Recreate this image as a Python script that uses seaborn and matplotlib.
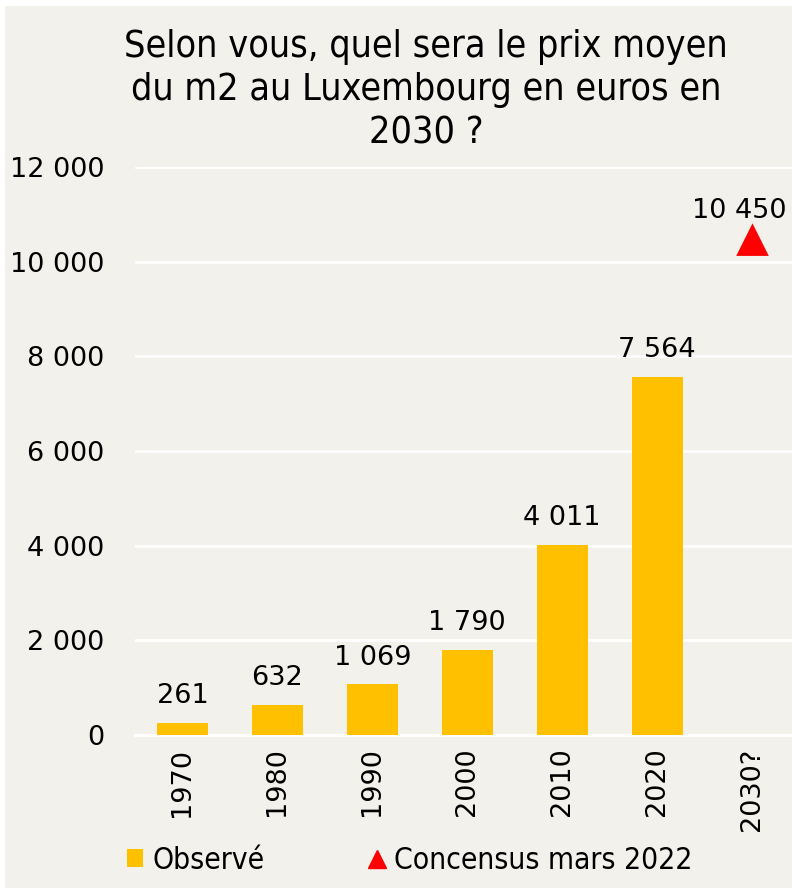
import matplotlib
matplotlib.use("Agg")
import matplotlib.pyplot as plt
import seaborn as sns
from matplotlib.patches import Patch, Rectangle
from matplotlib.lines import Line2D

categories = ["1970", "1980", "1990", "2000", "2010", "2020", "2030?"]
obs_years = ["1970", "1980", "1990", "2000", "2010", "2020"]
obs_values = [261, 632, 1069, 1790, 4011, 7564]
consensus_year = ["2030?"]
consensus_value = [10450]
y_ticks = [0, 2000, 4000, 6000, 8000, 10000, 12000]

bg = "#F2F1EC"
gold = "#FFC000"
red = "#FF0000"


def fmt(v):
    return f"{v:,.0f}".replace(",", " ")


sns.set_theme(style="white")
plt.rcParams["font.family"] = ["DejaVu Sans"]

fig = plt.figure(figsize=(7.92, 8.88), dpi=100, facecolor="white")
fig.patches.append(Rectangle((5 / 792, 0), 1, 1 - 6 / 888, transform=fig.transFigure,
                             facecolor=bg, edgecolor="none", zorder=-10))
ax = fig.add_axes([135 / 792, 1 - 735 / 888, (792 - 135) / 792, (735 - 167) / 888])
ax.set_facecolor(bg)

sns.barplot(ax=ax, x=obs_years, y=obs_values, order=categories, color=gold,
            saturation=1, width=0.54, linewidth=0, zorder=3)
sns.pointplot(ax=ax, x=consensus_year, y=consensus_value, order=categories,
              color=red, marker="^", markersize=20, linestyle="none", errorbar=None, zorder=4)

ax.bar_label(ax.containers[0], labels=[fmt(v) for v in obs_values], padding=10,
             fontsize=19.5, color="black")
ax.annotate(fmt(consensus_value[0]), (categories.index("2030?"), consensus_value[0]),
            xytext=(-9, 12), textcoords="offset points", ha="center", va="bottom",
            fontsize=19.5, color="black")

ax.set_xlim(-0.5, 6.42)
ax.set_ylim(0, 12000)
ax.set_yticks(y_ticks)
ax.set_yticklabels([fmt(v) for v in y_ticks])
ax.yaxis.grid(True, color="white", linewidth=2, zorder=0)
ax.set_axisbelow(True)
for s in ["top", "right", "left"]:
    ax.spines[s].set_visible(False)
ax.spines["bottom"].set_color("white")
ax.spines["bottom"].set_linewidth(2)
ax.tick_params(axis="y", length=0, pad=22, labelsize=19.5, labelcolor="black")
ax.tick_params(axis="x", length=0, pad=9, labelsize=19.5, labelcolor="black", labelrotation=90)
ax.set_xlabel("")
ax.set_ylabel("")

fig.text(426 / 792, 1 - 29 / 888,
         "Selon vous, quel sera le prix moyen\ndu m2 au Luxembourg en euros en\n2030 ?",
         ha="center", va="top", fontsize=27, fontstretch="condensed", color="black",
         linespacing=1.25)

handles = [Patch(facecolor=gold, edgecolor="none"),
           Line2D([], [], marker="^", color=red, linestyle="none", markersize=13)]
leg = fig.legend(handles, ["Observé", "Concensus mars 2022"], loc="center left",
                 bbox_to_anchor=(100 / 792, 1 - 860 / 888), ncol=2, frameon=False,
                 prop={"size": 21.5, "stretch": "condensed"}, handlelength=0.55,
                 handleheight=0.55, handletextpad=0.3, columnspacing=3.5)
for t in leg.get_texts():
    t.set_color("black")

fig.savefig("out.png", dpi=100, facecolor="white")
